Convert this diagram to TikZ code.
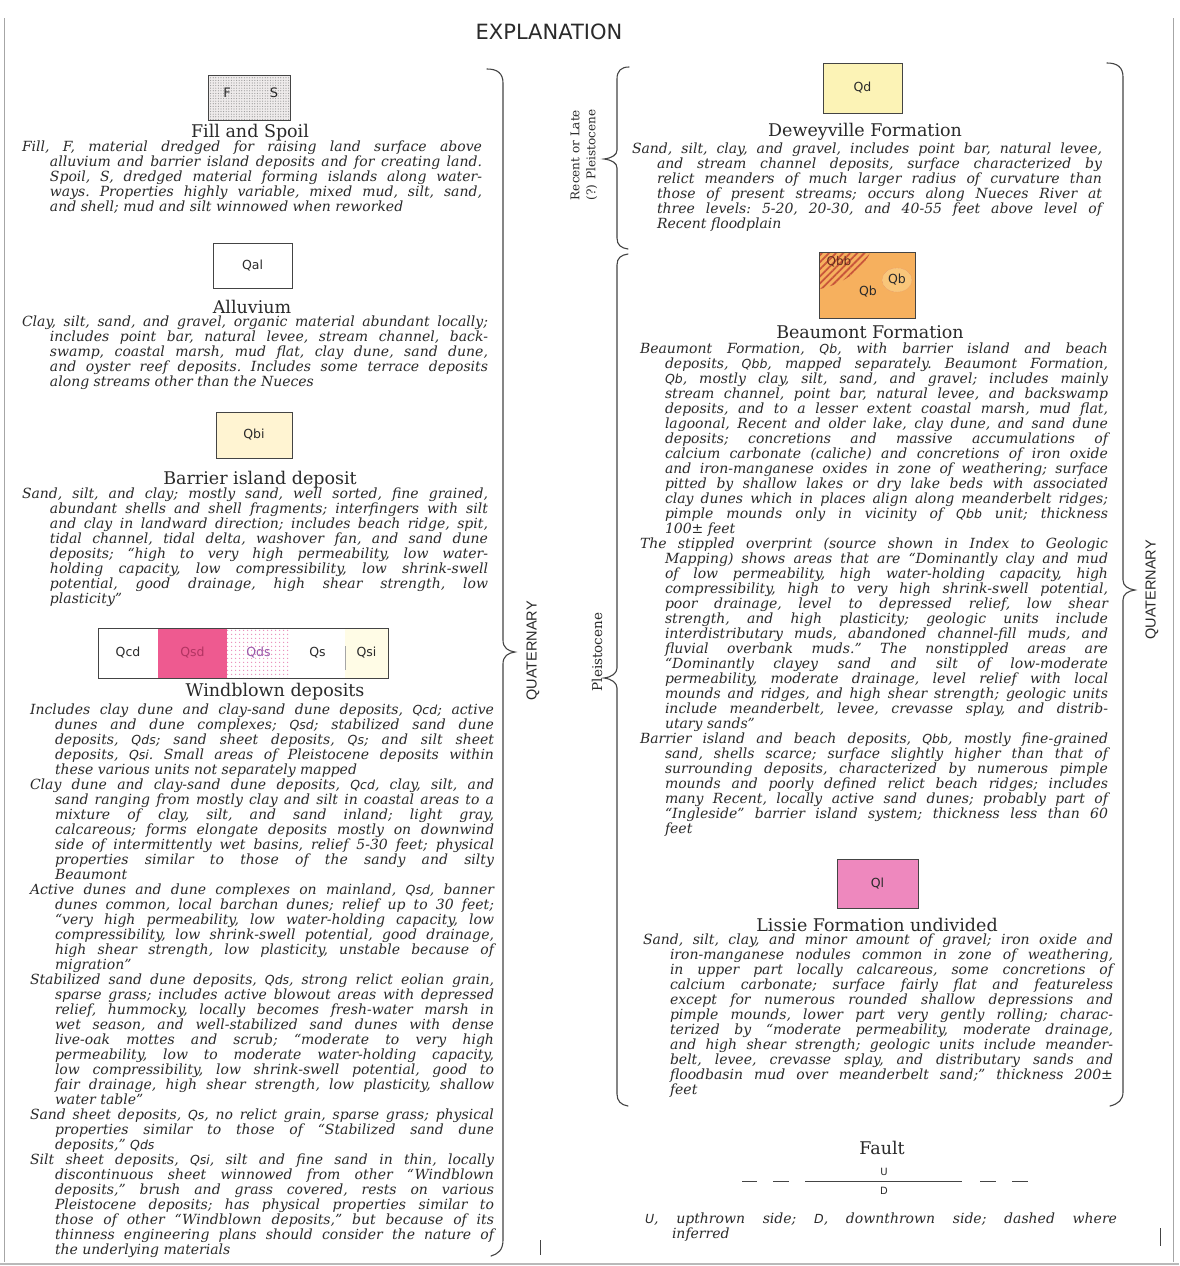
\documentclass[tikz,border=0pt]{standalone}
\usepackage{fontspec}
\setmainfont{DejaVu Serif}
\newfontfamily\sansfam{Liberation Sans}
\newfontfamily\symfam{DejaVu Sans}
\usetikzlibrary{patterns.meta,shapes.geometric}
\definecolor{ink}{HTML}{2A2A2A}
\definecolor{frame}{HTML}{444444}
\definecolor{qsdc}{HTML}{EE5A90}
\definecolor{qsdt}{HTML}{B23462}
\definecolor{qdsdot}{HTML}{E889B8}
\definecolor{qdst}{HTML}{9A58A8}
\definecolor{qsic}{HTML}{FFFCE6}
\definecolor{qbic}{HTML}{FFF4D2}
\definecolor{qdc}{HTML}{FCF3B6}
\definecolor{qbc}{HTML}{F6B05E}
\definecolor{qbl}{HTML}{F9C67A}
\definecolor{qbbs}{HTML}{C8553A}
\definecolor{qlc}{HTML}{EE88BE}
\definecolor{fsc}{HTML}{EEEBEB}
\newlength\hind
\newcommand\jst{\spaceskip=0pt \xspaceskip=0pt \frenchspacing}
\newcommand\LA[1]{\hbox to\hsize{\vrule height 10.5pt depth 4pt width 0pt\relax #1}}
\newcommand\LB[1]{\hbox to\hsize{\vrule height 10.5pt depth 4pt width 0pt\relax\hskip\hind\relax #1}}
\newcommand\LC[1]{\hbox to\hsize{\vrule height 10.5pt depth 4pt width 0pt\relax\hskip\hind\relax #1\hfil}}
\newcommand\qu[1]{{\symfam\fontsize{12.5}{12.5}\selectfont #1}}
\newcommand\bodyfont{\itshape\fontsize{14}{15}\selectfont}
\tikzset{
  body/.style={anchor=north west, inner sep=0pt, outer sep=0pt, text width=#1, font=\bodyfont, text=ink},
  ttl/.style={font=\fontsize{17.5}{20}\selectfont, text=ink, inner sep=0pt},
  unitbox/.style={draw=frame, line width=0.9pt, inner sep=0pt, font=\symfam\fontsize{12.5}{12.5}\selectfont, text=ink},
  seg/.style={inner sep=0pt, outer sep=0pt, minimum height=50pt, font=\symfam\fontsize{12.5}{12.5}\selectfont, text=ink},
  brace/.style={draw=frame, line width=1.1pt, line cap=round},
  vlab/.style={rotate=90, text=ink, inner sep=0pt},
  faultln/.style={draw=frame, line width=0.9pt}
}
\begin{document}
\begin{tikzpicture}[x=1pt,y=-1pt]
\useasboundingbox (0,0) rectangle (1179,1266);
\fill[white] (0,0) rectangle (1179,1266);
% page edges
\draw[gray!70, line width=0.8pt] (4,18) -- (4,1262);
\draw[gray!70, line width=0.8pt] (1173,18) -- (1173,1262);
\draw[gray!55, line width=2.5pt] (0,1264) -- (1179,1264);
\draw[frame, line width=0.7pt] (540,1240) -- (540,1255);
\draw[frame, line width=0.7pt] (1160,1228) -- (1160,1246);

\node[font=\symfam\fontsize{21}{21}\selectfont, text=ink] (title) at (549,32) {EXPLANATION};

% ---------------- left column ----------------
\node[unitbox, minimum width=82pt, minimum height=45pt, preaction={fill=fsc}, pattern={Dots[distance=2.6pt,radius=0.6pt]}, pattern color=gray!80] (fsbox) at (249,97.5) {};
\node[font=\symfam\fontsize{13}{13}\selectfont, text=ink, inner sep=0pt] (fsF) at (227,93) {F};
\node[font=\symfam\fontsize{13}{13}\selectfont, text=ink, inner sep=0pt] (fsS) at (274,93) {S};
\node[ttl] (fsttl) at (250,133) {Fill and Spoil};
\node[body=460pt] (fstext) at (22,141) {\jst\baselineskip=15.5pt \hind=28pt
\LA{Fill, F, material dredged for raising land surface above}
\LB{alluvium and barrier island deposits and for creating land.}
\LB{Spoil, S, dredged material forming islands along water-}
\LB{ways. Properties highly variable, mixed mud, silt, sand,}
\LC{and shell; mud and silt winnowed when reworked}};

\node[unitbox, fill=white, minimum width=79pt, minimum height=45pt] (qal) at (252.5,265.5) {Qal};
\node[ttl] (qalttl) at (252,307) {Alluvium};
\node[body=466pt] (qaltext) at (22,316) {\jst\baselineskip=14.6pt \hind=28pt
\LA{Clay, silt, sand, and gravel, organic material abundant locally;}
\LB{includes point bar, natural levee, stream channel, back-}
\LB{swamp, coastal marsh, mud flat, clay dune, sand dune,}
\LB{and oyster reef deposits. Includes some terrace deposits}
\LC{along streams other than the Nueces}};

\node[unitbox, fill=qbic, minimum width=76pt, minimum height=46pt] (qbi) at (254,435) {Qbi};
\node[ttl] (qbittl) at (260,480) {Barrier island deposit};
\node[body=466pt] (qbitext) at (22,488) {\jst\baselineskip=15.6pt \hind=28pt
\LA{Sand, silt, and clay; mostly sand, well sorted, fine grained,}
\LB{abundant shells and shell fragments; interfingers with silt}
\LB{and clay in landward direction; includes beach ridge, spit,}
\LB{tidal channel, tidal delta, washover fan, and sand dune}
\LB{deposits; “high to very high permeability, low water-}
\LB{holding capacity, low compressibility, low shrink-swell}
\LB{potential, good drainage, high shear strength, low}
\LC{plasticity”}};

\node[seg, fill=white, minimum width=60pt] (qcd) at (128,653) {Qcd};
\node[seg, fill=qsdc, text=qsdt, minimum width=69pt] (qsd) at (192.5,653) {Qsd};
\node[seg, preaction={fill=white}, pattern={Dots[distance=4pt,radius=0.8pt]}, pattern color=qdsdot, text=qdst, minimum width=63pt] (qds) at (258.5,653) {Qds};
\node[seg, fill=white, minimum width=55pt] (qs) at (317.5,653) {Qs};
\node[seg, fill=qsic, minimum width=43pt] (qsi) at (366.5,653) {Qsi};
\draw[frame, line width=0.9pt] (qcd.north west) rectangle (qsi.south east);
\draw[gray!70, line width=0.6pt] ([yshift=-18pt]qs.north east) -- ([yshift=8pt]qs.south east);
\node[ttl] (wbttl) at (275,692) {Windblown deposits};
\node[body=464pt] (wbtext) at (30,704) {\jst\baselineskip=14.97pt \hind=25pt
\LA{Includes clay dune and clay-sand dune deposits, \qu{Qcd}; active}
\LB{dunes and dune complexes; \qu{Qsd}; stabilized sand dune}
\LB{deposits, \qu{Qds}; sand sheet deposits, \qu{Qs}; and silt sheet}
\LB{deposits, \qu{Qsi}. Small areas of Pleistocene deposits within}
\LC{these various units not separately mapped}
\LA{Clay dune and clay-sand dune deposits, \qu{Qcd}, clay, silt, and}
\LB{sand ranging from mostly clay and silt in coastal areas to a}
\LB{mixture of clay, silt, and sand inland; light gray,}
\LB{calcareous; forms elongate deposits mostly on downwind}
\LB{side of intermittently wet basins, relief 5-30 feet; physical}
\LB{properties similar to those of the sandy and silty}
\LC{Beaumont}
\LA{Active dunes and dune complexes on mainland, \qu{Qsd}, banner}
\LB{dunes common, local barchan dunes; relief up to 30 feet;}
\LB{“very high permeability, low water-holding capacity, low}
\LB{compressibility, low shrink-swell potential, good drainage,}
\LB{high shear strength, low plasticity, unstable because of}
\LC{migration”}
\LA{Stabilized sand dune deposits, \qu{Qds}, strong relict eolian grain,}
\LB{sparse grass; includes active blowout areas with depressed}
\LB{relief, hummocky, locally becomes fresh-water marsh in}
\LB{wet season, and well-stabilized sand dunes with dense}
\LB{live-oak mottes and scrub; “moderate to very high}
\LB{permeability, low to moderate water-holding capacity,}
\LB{low compressibility, low shrink-swell potential, good to}
\LB{fair drainage, high shear strength, low plasticity, shallow}
\LC{water table”}
\LA{Sand sheet deposits, \qu{Qs}, no relict grain, sparse grass; physical}
\LB{properties similar to those of “Stabilized sand dune}
\LC{deposits,” \qu{Qds}}
\LA{Silt sheet deposits, \qu{Qsi}, silt and fine sand in thin, locally}
\LB{discontinuous sheet winnowed from other “Windblown}
\LB{deposits,” brush and grass covered, rests on various}
\LB{Pleistocene deposits; has physical properties similar to}
\LB{those of other “Windblown deposits,” but because of its}
\LB{thinness engineering plans should consider the nature of}
\LC{the underlying materials}};

% ---------------- braces and vertical labels ----------------
\draw[brace] (487,69) .. controls (497,69) and (503,73) .. (503,83) -- (503,640) .. controls (503,648) and (508,651) .. (515,652) .. controls (508,653) and (503,656) .. (503,664) -- (503,1240) .. controls (503,1250) and (498,1254) .. (491,1256);
\node[vlab, font=\sansfam\fontsize{14.5}{14.5}\selectfont] (quatL) at (533,651) {QUATERNARY};

\draw[brace] (629,67) .. controls (621,67) and (617,71) .. (617,79) -- (617,150) .. controls (617,155) and (612,158) .. (604,159) .. controls (612,160) and (617,163) .. (617,168) -- (617,238) .. controls (617,245) and (621,248) .. (628,249);
\node[vlab, align=center, font=\fontsize{12}{16}\selectfont] (recent) at (584,155) {Recent or Late\\(?) Pleistocene};

\draw[brace] (628,254) .. controls (621,255) and (617,258) .. (617,265) -- (617,668) .. controls (617,673) and (612,677) .. (604,678) .. controls (612,679) and (617,683) .. (617,688) -- (617,1094) .. controls (617,1101) and (621,1105) .. (628,1106);
\node[vlab, font=\fontsize{13.5}{13.5}\selectfont] (pleis) at (597,652) {Pleistocene};

\draw[brace] (1107,63) .. controls (1117,63) and (1123,67) .. (1123,77) -- (1123,580) .. controls (1123,586) and (1128,589) .. (1135,590) .. controls (1128,591) and (1123,594) .. (1123,600) -- (1123,1092) .. controls (1123,1100) and (1118,1104) .. (1110,1106);
\node[vlab, font=\sansfam\fontsize{14.5}{14.5}\selectfont] (quatR) at (1152,590) {QUATERNARY};

% ---------------- right column ----------------
\node[unitbox, fill=qdc, minimum width=79pt, minimum height=50pt] (qd) at (862.5,88) {Qd};
\node[ttl] (qdttl) at (865,132) {Deweyville Formation};
\node[body=470pt] (qdtext) at (632,143) {\jst\baselineskip=15.2pt \hind=25pt
\LA{Sand, silt, clay, and gravel, includes point bar, natural levee,}
\LB{and stream channel deposits, surface characterized by}
\LB{relict meanders of much larger radius of curvature than}
\LB{those of present streams; occurs along Nueces River at}
\LB{three levels: 5-20, 20-30, and 40-55 feet above level of}
\LC{Recent floodplain}};

\node[inner sep=0pt, fill=qbc, minimum width=95pt, minimum height=65pt] (qb) at (867.5,285.5) {};
\fill[pattern={Lines[angle=45,distance=5pt,line width=1.8pt]}, pattern color=qbbs] (qb.north west) -- (870,253) .. controls (862,270) and (843,284) .. (820,289) -- cycle;
\draw[frame, line width=0.9pt] (qb.north west) rectangle (qb.south east);
\node[ellipse, draw=qbbs!70, densely dotted, fill=qbl, minimum width=30pt, minimum height=24pt, inner sep=0pt, font=\symfam\fontsize{12.5}{12.5}\selectfont, text=ink] (qbe) at (897,280) {Qb};
\node[font=\symfam\fontsize{12}{12}\selectfont, text=qbbs!50!black, inner sep=0pt] (qbblab) at (839,262) {Qbb};
\node[font=\symfam\fontsize{12.5}{12.5}\selectfont, text=ink, inner sep=0pt] (qblab) at (868,292) {Qb};
\node[ttl] (qbttl) at (870,332) {Beaumont Formation};
\node[body=468pt] (qbtext) at (640,343) {\jst\baselineskip=14.97pt \hind=25pt
\LA{Beaumont Formation, \qu{Qb}, with barrier island and beach}
\LB{deposits, \qu{Qbb}, mapped separately. Beaumont Formation,}
\LB{\qu{Qb}, mostly clay, silt, sand, and gravel; includes mainly}
\LB{stream channel, point bar, natural levee, and backswamp}
\LB{deposits, and to a lesser extent coastal marsh, mud flat,}
\LB{lagoonal, Recent and older lake, clay dune, and sand dune}
\LB{deposits; concretions and massive accumulations of}
\LB{calcium carbonate (caliche) and concretions of iron oxide}
\LB{and iron-manganese oxides in zone of weathering; surface}
\LB{pitted by shallow lakes or dry lake beds with associated}
\LB{clay dunes which in places align along meanderbelt ridges;}
\LB{pimple mounds only in vicinity of \qu{Qbb} unit; thickness}
\LC{100± feet}
\LA{The stippled overprint (source shown in Index to Geologic}
\LB{Mapping) shows areas that are “Dominantly clay and mud}
\LB{of low permeability, high water-holding capacity, high}
\LB{compressibility, high to very high shrink-swell potential,}
\LB{poor drainage, level to depressed relief, low shear}
\LB{strength, and high plasticity; geologic units include}
\LB{interdistributary muds, abandoned channel-fill muds, and}
\LB{fluvial overbank muds.” The nonstippled areas are}
\LB{“Dominantly clayey sand and silt of low-moderate}
\LB{permeability, moderate drainage, level relief with local}
\LB{mounds and ridges, and high shear strength; geologic units}
\LB{include meanderbelt, levee, crevasse splay, and distrib-}
\LC{utary sands”}
\LA{Barrier island and beach deposits, \qu{Qbb}, mostly fine-grained}
\LB{sand, shells scarce; surface slightly higher than that of}
\LB{surrounding deposits, characterized by numerous pimple}
\LB{mounds and poorly defined relict beach ridges; includes}
\LB{many Recent, locally active sand dunes; probably part of}
\LB{“Ingleside” barrier island system; thickness less than 60}
\LC{feet}};

\node[unitbox, fill=qlc, minimum width=81pt, minimum height=49pt] (ql) at (877.5,883.5) {Ql};
\node[ttl] (qlttl) at (877,925) {Lissie Formation undivided};
\node[body=470pt] (qltext) at (643,934) {\jst\baselineskip=15.5pt \hind=27pt
\LA{Sand, silt, clay, and minor amount of gravel; iron oxide and}
\LB{iron-manganese nodules common in zone of weathering,}
\LB{in upper part locally calcareous, some concretions of}
\LB{calcium carbonate; surface fairly flat and featureless}
\LB{except for numerous rounded shallow depressions and}
\LB{pimple mounds, lower part very gently rolling; charac-}
\LB{terized by “moderate permeability, moderate drainage,}
\LB{and high shear strength; geologic units include meander-}
\LB{belt, levee, crevasse splay, and distributary sands and}
\LB{floodbasin mud over meanderbelt sand;” thickness 200±}
\LC{feet}};

% ---------------- fault ----------------
\node[ttl] (faultttl) at (882,1148) {Fault};
\coordinate (f1a) at (742,1181); \coordinate (f1b) at (757,1181);
\coordinate (f2a) at (773,1181); \coordinate (f2b) at (789,1181);
\coordinate (fsa) at (805,1181); \coordinate (fsb) at (962,1181);
\coordinate (f3a) at (980,1181); \coordinate (f3b) at (996,1181);
\coordinate (f4a) at (1012,1181); \coordinate (f4b) at (1028,1181);
\draw[faultln] (f1a) -- (f1b) (f2a) -- (f2b) (fsa) -- (fsb) (f3a) -- (f3b) (f4a) -- (f4b);
\node[font=\symfam\fontsize{10}{10}\selectfont, text=ink, inner sep=0pt] (fU) at (884,1172) {U};
\node[font=\symfam\fontsize{10}{10}\selectfont, text=ink, inner sep=0pt] (fD) at (884,1191) {D};
\node[body=472pt] (faulttext) at (645,1213) {\jst\baselineskip=17pt \hind=27pt
\LA{\qu{U}, upthrown side; \qu{D}, downthrown side; dashed where}
\LC{inferred}};
\end{tikzpicture}
\end{document}
